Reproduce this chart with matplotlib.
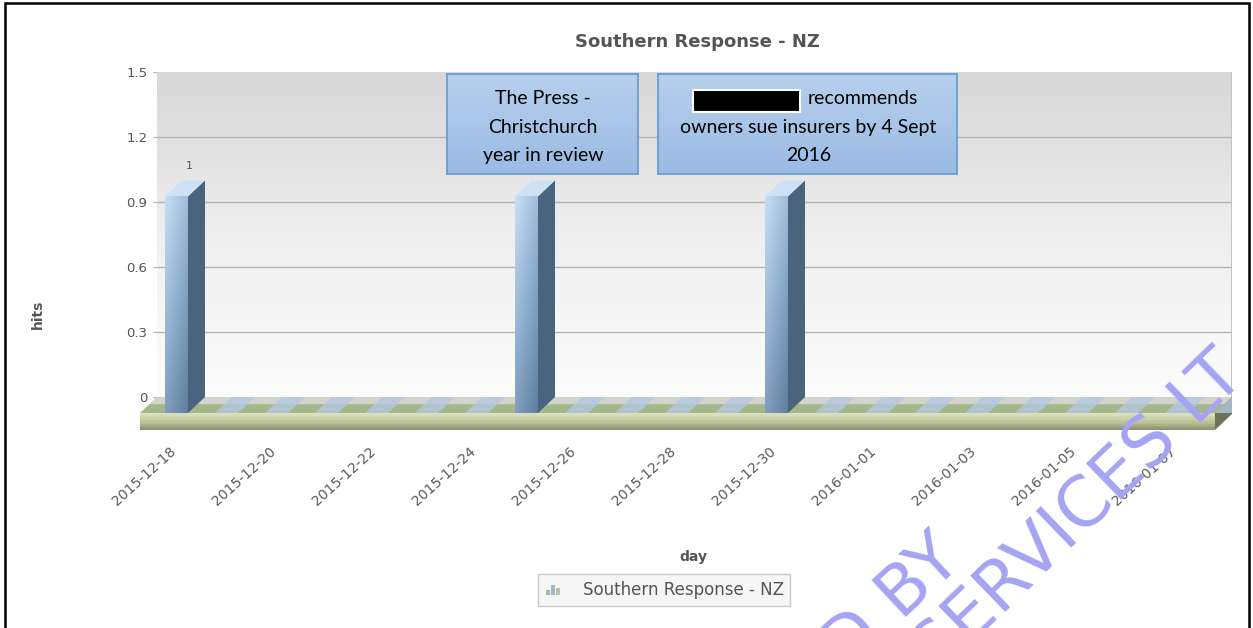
import numpy as np
import matplotlib.pyplot as plt
from matplotlib.patches import Polygon, Rectangle
from matplotlib.legend_handler import HandlerBase
from matplotlib.colors import LinearSegmentedColormap
from matplotlib.transforms import ScaledTranslation

# data
dates = ['2015-12-18', '2015-12-19', '2015-12-20', '2015-12-21', '2015-12-22',
         '2015-12-23', '2015-12-24', '2015-12-25', '2015-12-26', '2015-12-27',
         '2015-12-28', '2015-12-29', '2015-12-30', '2015-12-31', '2016-01-01',
         '2016-01-02', '2016-01-03', '2016-01-04', '2016-01-05', '2016-01-06',
         '2016-01-07', '2016-01-08']
hits = [1, 0, 0, 0, 0, 0, 0, 1, 0, 0, 0, 0, 1, 0, 0, 0, 0, 0, 0, 0, 0, 0]
tick_labels = dates[::2]
yticks = [0, 0.3, 0.6, 0.9, 1.2, 1.5]
ytick_labels = ['0', '0.3', '0.6', '0.9', '1.2', '1.5']
title = 'Southern Response - NZ'
note1 = ['The Press -', 'Christchurch', 'year in review']
note2 = ['recommends', 'owners sue insurers by 4 Sept', '2016']

W, H = 1253, 628
GREY = '#555555'


def fx(x):
    return x / W


def fy(y):
    return 1 - y / H


fig = plt.figure(figsize=(W / 100, H / 100), dpi=100)
ax = fig.add_axes([fx(157), fy(430), 1075 / W, 358 / H])

x0, x1 = -0.73, 20.77
DX, DY, SLAB = 0.34, 0.0738, 0.0785   # depth of the 3d effect in data units
BW = 0.46

# back wall
wall = np.linspace(0, 1, 256).reshape(-1, 1)
wall_cmap = LinearSegmentedColormap.from_list(
    'wall', ['#fcfcfc', '#f6f6f6', '#efefef', '#e2e2e2', '#d7d7d7'])
ax.imshow(wall, extent=(x0, x1, 0, 1.5), origin='lower', cmap=wall_cmap, aspect='auto', zorder=0)
ax.hlines(yticks[1:-1], x0, x1, color='#b3b3b3', lw=1, zorder=1)
ax.vlines(x1, 0, 1.5, color='#c4c4c4', lw=1.5, zorder=1)

# floor
ax.add_patch(Polygon([(x0, 0), (x1, 0), (x1 - DX, -DY), (x0 - DX, -DY)],
                     fc='#a4b78a', ec='none', zorder=2, clip_on=False))
ax.add_patch(Polygon([(x0, 0), (x1, 0), (x1 - DX * 0.45, -DY * 0.45), (x0 - DX * 0.45, -DY * 0.45)],
                     fc='#d2d4cb', ec='none', zorder=2, clip_on=False))
slab_cmap = LinearSegmentedColormap.from_list('slab', ['#dbe2bf', '#c8d0a5', '#b3ba90', '#8a8f6d'])
n = 12
for k in range(n):
    top = -DY - SLAB * k / n
    ax.add_patch(Rectangle((x0 - DX, top - SLAB / n), x1 - x0, SLAB / n,
                           fc=slab_cmap(k / (n - 1)), ec='none', zorder=2, clip_on=False))
ax.add_patch(Polygon([(x1 - DX, -DY), (x1, 0), (x1, -SLAB), (x1 - DX, -DY - SLAB)],
                     fc='#6e7357', ec='none', zorder=2, clip_on=False))

# bars
xs = np.arange(len(hits))
bars = ax.bar(xs - DX, hits, width=BW, bottom=-DY, color='#8fb0cf', zorder=4)
gy, gx = np.mgrid[0:1:64j, 0:1:32j]
grad = 0.65 * gy + 0.35 * (1 - gx)
bar_cmap = LinearSegmentedColormap.from_list('bar', ['#5f7e9b', '#8eaecd', '#c9def4'])
for bar, h in zip(bars, hits):
    l = bar.get_x()
    r = l + BW
    if h > 0:
        im = ax.imshow(grad, extent=(l, r, -DY, h - DY), origin='lower', cmap=bar_cmap,
                       aspect='auto', zorder=4.5)
        im.set_clip_path(bar)
        ax.add_patch(Polygon([(r, -DY), (r, h - DY), (r + DX, h), (r + DX, 0)],
                             fc='#4b647e', ec='none', zorder=4))
        ax.add_patch(Polygon([(l, h - DY), (r, h - DY), (r + DX, h), (l + DX, h)],
                             fc='#cfe2f5', ec='none', zorder=4))
        ax.text(l + BW / 2 + DX * 0.75, h + 0.065, f'{h:g}', ha='center', va='center',
                fontsize=8, color=GREY, zorder=6)
    else:
        ax.add_patch(Polygon([(l, -DY), (r, -DY), (r + DX, 0), (l + DX, 0)],
                             fc='#b4c8e3', ec='none', alpha=0.8, zorder=3))

ax.set_xlim(x0, x1)
ax.set_ylim(-DY - SLAB, 1.5)
for s in ax.spines.values():
    s.set_visible(False)
ax.patch.set_visible(False)

ax.set_xticks(xs[::2] - DX, tick_labels)
ax.tick_params(axis='x', length=0, pad=10, labelsize=10, labelcolor='#5a5a5a')
shift = ScaledTranslation(-7 / 100, 0, fig.dpi_scale_trans)
for lab in ax.get_xticklabels():
    lab.set_rotation(42)
    lab.set_ha('right')
    lab.set_va('top')
    lab.set_rotation_mode('anchor')
    lab.set_transform(lab.get_transform() + shift)
ax.set_yticks(yticks, ytick_labels)
ax.tick_params(axis='y', length=3, color='#b0b0b0', pad=4, labelsize=9.5, labelcolor=GREY)

fig.text(fx(697), fy(42), title, ha='center', va='center', fontsize=13,
         fontweight='bold', color=GREY)
fig.text(fx(693), fy(557), 'day', ha='center', va='center', fontsize=10,
         fontweight='bold', color=GREY)
fig.text(fx(38), fy(314), 'hits', ha='center', va='center', rotation=90, fontsize=10,
         fontweight='bold', color=GREY)


class MiniBars(HandlerBase):
    def create_artists(self, legend, orig_handle, xdescent, ydescent, width, height,
                       fontsize, trans):
        arts = []
        for k, (hh, c) in enumerate(zip([0.45, 0.9, 0.6], ['#a6b99c', '#9fb6cc', '#b3c2a8'])):
            arts.append(Rectangle((-xdescent + width * (0.1 + k * 0.3), -ydescent),
                                  width * 0.22, height * hh, fc=c, ec='none', transform=trans))
        return arts


leg = fig.legend(handles=[Rectangle((0, 0), 1, 1)], labels=[title],
                 handler_map={Rectangle: MiniBars()}, loc='center',
                 bbox_to_anchor=(fx(664), fy(590)), frameon=True, fancybox=False,
                 edgecolor='#c8c8c8', facecolor='#f6f6f6', framealpha=1, fontsize=12,
                 handlelength=1.0, handletextpad=1.3, borderpad=0.4)
for t in leg.get_texts():
    t.set_color(GREY)

# annotation boxes
box_cmap = LinearSegmentedColormap.from_list('box', ['#9bbbe4', '#b7cfec'])


def note_box(left, top, right, bottom):
    bx = fig.add_axes([fx(left), fy(bottom), (right - left) / W, (bottom - top) / H])
    bx.imshow(np.linspace(0, 1, 64).reshape(-1, 1), extent=(0, 1, 0, 1), origin='lower',
              cmap=box_cmap, aspect='auto')
    bx.set_xlim(0, 1)
    bx.set_ylim(0, 1)
    bx.set_xticks([])
    bx.set_yticks([])
    for s in bx.spines.values():
        s.set_color('#5b9bd5')
        s.set_linewidth(1.2)
    return bx


b1 = note_box(447, 74, 638, 174)
for line, yy in zip(note1, [0.75, 0.47, 0.19]):
    b1.text(0.503, yy, line, ha='center', va='center', fontsize=14, family='Lato', color='black')

b2 = note_box(658, 74, 957, 174)
b2.add_patch(Rectangle((0.117, 0.62), 0.358, 0.22, fc='black', ec='white', lw=1.5))
b2.text(0.5, 0.75, note2[0], ha='left', va='center', fontsize=14, family='Lato', color='black')
for line, yy in zip(note2[1:], [0.47, 0.19]):
    b2.text(0.503, yy, line, ha='center', va='center', fontsize=14, family='Lato', color='black')

# watermark
fig.text(0.675, -0.072, 'D BY', rotation=43, rotation_mode='anchor', ha='left', va='baseline',
         fontsize=50, color='#a4a4f4', zorder=10)
fig.text(0.748, -0.078, 'SERVICES LT', rotation=44, rotation_mode='anchor', ha='left',
         va='baseline', fontsize=50, color='#a4a4f4', zorder=10)

# outer frame
fig.add_artist(Rectangle((fx(5), -0.05), fx(1249) - fx(5), fy(3) + 0.05, transform=fig.transFigure,
                         fill=False, ec='black', lw=1.8))

fig.savefig('out.png', dpi=100)
